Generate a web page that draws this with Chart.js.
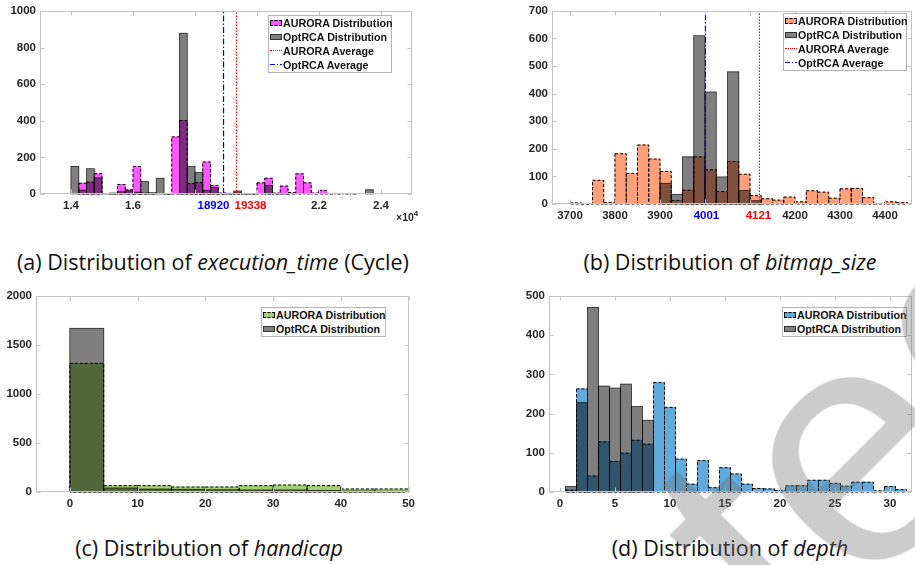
<!DOCTYPE html>
<html>
<head>
<meta charset="utf-8">
<title>AURORA vs OptRCA distributions</title>
<script src="https://cdn.jsdelivr.net/npm/chart.js@4.4.1/dist/chart.umd.min.js"></script>
<style>
  body { margin: 0; background: #fff; }
  #page { position: relative; width: 915px; height: 565px; overflow: hidden; background: #fff; }
  canvas { position: absolute; }
  .caption { position: absolute; width: 460px; text-align: center; font-family: "Open Sans", sans-serif; font-size: 21.5px; line-height: 30px; color: #111; white-space: nowrap; }
  .legend { position: absolute; box-sizing: border-box; background: #fff; border: 1px solid #b4b4b4; font: bold 10.7px "Liberation Sans", Arial, sans-serif; color: #111; }
  .legend .row { display: flex; align-items: center; height: 13.9px; white-space: nowrap; }
  .sw { width: 12px; height: 6px; margin: 0 1px 0 1px; box-sizing: border-box; flex: none; }
  .exp { position: absolute; font: bold 10.5px "Liberation Sans", Arial, sans-serif; color: #262626; }
  #stamp { position: absolute; left: 0; top: 0; pointer-events: none; }
</style>
</head>
<body>
<div id="page">
  <canvas id="chartA" width="420" height="230" style="left:0;top:0"></canvas>
  <canvas id="chartB" width="455" height="230" style="left:460px;top:0"></canvas>
  <canvas id="chartC" width="420" height="240" style="left:0;top:280px"></canvas>
  <canvas id="chartD" width="455" height="240" style="left:460px;top:280px"></canvas>

  <div class="exp" style="left:396px;top:209px">&times;10<sup style="font-size:8px">4</sup></div>

  <div class="caption" style="left:-17px;top:247px">(a) Distribution of <i>execution_time</i> (Cycle)</div>
  <div class="caption" style="left:500px;top:247px">(b) Distribution of <i>bitmap_size</i></div>
  <div class="caption" style="left:-21px;top:533px">(c) Distribution of <i>handicap</i></div>
  <div class="caption" style="left:500px;top:533px">(d) Distribution of <i>depth</i></div>

  <!-- watermark stamp over the lower right corner -->
  <svg id="stamp" width="915" height="565">
    <text x="125" y="1334" transform="rotate(-45 125 1334)" font-family="Liberation Sans, Arial, sans-serif"
          font-size="340" fill="rgba(110,110,110,0.35)">Accepted</text>
  </svg>
</div>

<script>
// ---- (a) execution_time, 250-cycle bins starting at 14000
const execBinStart = 14000;
const execBinWidth = 250;
const execAurora = [0, 59, 65, 111, 0, 2, 52, 23, 150, 5, 3, 0, 2, 312, 401, 57, 63, 175, 47, 5,
                    2, 5, 2, 2, 61, 86, 5, 43, 8, 110, 61, 5, 20, 3, 3, 3, 2, 0, 0, 0];
const execOptrca = [151, 21, 138, 88, 3, 5, 12, 18, 10, 68, 7, 86, 2, 0, 878, 150, 118, 20, 36, 3,
                    4, 16, 2, 2, 0, 47, 2, 3, 0, 0, 0, 0, 0, 0, 0, 0, 0, 0, 23, 0];
const execAvgAurora = 19338;
const execAvgOptrca = 18920;
const execXTicks = [14000, 16000, 18000, 20000, 22000, 24000];
const execXLabels = ['1.4', '1.6', '', '', '2.2', '2.4'];
const execYTicks = [0, 200, 400, 600, 800, 1000];

// ---- (b) bitmap_size, 25-wide bins starting at 3700
const bitmapBinStart = 3700;
const bitmapBinWidth = 25;
const bitmapAurora = [4, 1, 86, 5, 182, 111, 214, 163, 118, 13, 50, 171, 124, 45, 154, 108, 30, 19, 14, 25,
                      8, 48, 43, 21, 55, 56, 23, 2, 8, 5];
const bitmapOptrca = [0, 0, 0, 0, 0, 0, 0, 0, 75, 35, 171, 610, 406, 98, 479, 49, 12, 0, 0, 0,
                      0, 0, 0, 0, 0, 0, 0, 0, 0, 0];
const bitmapAvgAurora = 4121;
const bitmapAvgOptrca = 4001;
const bitmapXTicks = [3700, 3800, 3900, 4000, 4100, 4200, 4300, 4400];
const bitmapXLabels = ['3700', '3800', '3900', '', '', '4200', '4300', '4400'];
const bitmapYTicks = [0, 100, 200, 300, 400, 500, 600, 700];

// ---- (c) handicap, 5-wide bins starting at 0
const handicapBinStart = 0;
const handicapBinWidth = 5;
const handicapAurora = [1313, 65, 65, 51, 51, 65, 71, 65, 31, 31];
const handicapOptrca = [1670, 41, 29, 27, 22, 20, 20, 15, 10, 8];
const handicapXTicks = [0, 10, 20, 30, 40, 50];
const handicapYTicks = [0, 500, 1000, 1500, 2000];

// ---- (d) depth, unit bins centred on integers 1..31
const depthBinStart = 0.5;
const depthBinWidth = 1;
const depthAurora = [5, 263, 41, 128, 78, 99, 132, 122, 279, 216, 84, 20, 80, 11, 62, 46, 20, 9, 8, 4,
                     16, 16, 30, 30, 22, 15, 25, 25, 3, 14, 6];
const depthOptrca = [14, 228, 471, 270, 265, 275, 218, 183, 0, 0, 0, 0, 0, 0, 0, 0, 0, 0, 0, 0,
                     0, 0, 0, 0, 0, 0, 0, 0, 0, 0, 0];
const depthXTicks = [0, 5, 10, 15, 20, 25, 30];
const depthYTicks = [0, 100, 200, 300, 400, 500];

const TICK_FONT = { family: '"Liberation Sans", Arial, sans-serif', size: 11.5, weight: 'bold' };
const TICK_COLOR = '#262626';
const AXIS_COLOR = '#c4c4c4';
const OPT_FILL = 'rgba(0, 0, 0, 0.5)';
const AVG_AURORA_COLOR = '#ff0000';
const AVG_OPTRCA_COLOR = '#0000ff';

// draws bar edges, average lines and the matlab-style box with inward ticks
function axesDecor(cfg) {
    return {
        id: 'axesDecor',
        afterDatasetsDraw(chart) {
            const ctx = chart.ctx;
            const a = chart.chartArea;
            const xs = chart.scales.x;
            const ys = chart.scales.y;
            ctx.save();

            chart.data.datasets.forEach((ds, i) => {
                const meta = chart.getDatasetMeta(i);
                ctx.strokeStyle = ds.edgeColor;
                ctx.lineWidth = ds.edgeWidth;
                ctx.setLineDash(ds.edgeDash);
                meta.data.forEach((bar, j) => {
                    if (!ds.data[j].y) return;
                    const p = bar.getProps(['x', 'y', 'base', 'width'], true);
                    ctx.strokeRect(p.x - p.width / 2, p.y, p.width, p.base - p.y);
                });
            });

            (cfg.averages || []).forEach(av => {
                const px = xs.getPixelForValue(av.value);
                ctx.strokeStyle = av.color;
                ctx.lineWidth = 1.2;
                ctx.setLineDash(av.dash);
                ctx.beginPath();
                ctx.moveTo(px, a.bottom);
                ctx.lineTo(px, a.top);
                ctx.stroke();
                ctx.setLineDash([]);
                ctx.fillStyle = av.color;
                ctx.font = 'bold 11.5px "Liberation Sans", Arial, sans-serif';
                ctx.textAlign = 'center';
                ctx.textBaseline = 'top';
                ctx.fillText(String(av.value), px + av.dx, a.bottom + 6);
            });

            ctx.setLineDash([]);
            ctx.strokeStyle = AXIS_COLOR;
            ctx.lineWidth = 1;
            const L = Math.round(a.left) + 0.5, R = Math.round(a.right) - 0.5;
            const T = Math.round(a.top) + 0.5, B = Math.round(a.bottom) - 0.5;
            ctx.strokeRect(L, T, R - L, B - T);
            ctx.beginPath();
            xs.ticks.forEach(t => {
                const px = Math.round(xs.getPixelForValue(t.value)) + 0.5;
                ctx.moveTo(px, B); ctx.lineTo(px, B - 4);
                ctx.moveTo(px, T); ctx.lineTo(px, T + 4);
            });
            ys.ticks.forEach(t => {
                const py = Math.round(ys.getPixelForValue(t.value)) + 0.5;
                ctx.moveTo(L, py); ctx.lineTo(L + 4, py);
                ctx.moveTo(R, py); ctx.lineTo(R - 4, py);
            });
            ctx.stroke();
            ctx.restore();
        }
    };
}

function makeHist(cfg) {
    const centers = cfg.aurora.map((_, i) => cfg.binStart + (i + 0.5) * cfg.binWidth);
    const toPoints = vals => centers.map((c, i) => ({ x: c, y: vals[i] }));

    return new Chart(document.getElementById(cfg.canvas), {
        type: 'bar',
        data: {
            datasets: [
                {
                    label: 'OptRCA Distribution',
                    data: toPoints(cfg.optrca),
                    backgroundColor: OPT_FILL,
                    borderWidth: 0,
                    edgeColor: 'rgba(0, 0, 0, 0.6)',
                    edgeWidth: 0.9,
                    edgeDash: []
                },
                {
                    label: 'AURORA Distribution',
                    data: toPoints(cfg.aurora),
                    backgroundColor: cfg.color,
                    borderWidth: 0,
                    edgeColor: '#000',
                    edgeWidth: 1,
                    edgeDash: [3, 2]
                }
            ]
        },
        options: {
            responsive: false,
            animation: false,
            grouped: false,
            barPercentage: 1,
            categoryPercentage: 1,
            layout: { padding: cfg.padding },
            plugins: { legend: { display: false }, tooltip: { enabled: false } },
            scales: {
                x: {
                    type: 'linear',
                    offset: false,
                    min: cfg.xMin,
                    max: cfg.xMax,
                    grid: { display: false, drawTicks: false, offset: false },
                    border: { display: false },
                    afterBuildTicks: s => { s.ticks = cfg.xTicks.map(v => ({ value: v })); },
                    afterFit: s => { s.height = cfg.xHeight; },
                    ticks: {
                        autoSkip: false,
                        maxRotation: 0,
                        padding: 5,
                        color: TICK_COLOR,
                        font: TICK_FONT,
                        callback: (v, i) => cfg.xLabels ? cfg.xLabels[i] : String(v)
                    }
                },
                y: {
                    min: 0,
                    max: cfg.yTicks[cfg.yTicks.length - 1],
                    grid: { display: false, drawTicks: false },
                    border: { display: false },
                    afterBuildTicks: s => { s.ticks = cfg.yTicks.map(v => ({ value: v })); },
                    afterFit: s => { s.width = cfg.yWidth; },
                    ticks: { padding: 4, color: TICK_COLOR, font: TICK_FONT, callback: v => String(v) }
                }
            }
        },
        plugins: [axesDecor(cfg)]
    });
}

function addLegend(left, top, width, rows) {
    const box = document.createElement('div');
    box.className = 'legend';
    box.style.left = left + 'px';
    box.style.top = top + 'px';
    box.style.width = width + 'px';
    rows.forEach(r => {
        const row = document.createElement('div');
        row.className = 'row';
        const sw = document.createElement('span');
        sw.className = 'sw';
        Object.assign(sw.style, r.swatch);
        const txt = document.createElement('span');
        txt.textContent = r.text;
        row.appendChild(sw);
        row.appendChild(txt);
        box.appendChild(row);
    });
    document.getElementById('page').insertBefore(box, document.getElementById('stamp'));
}

function legendRows(color, withAverages) {
    const rows = [
        { text: 'AURORA Distribution', swatch: { background: color, border: '1px dashed #000' } },
        { text: 'OptRCA Distribution', swatch: { background: '#808080', border: '1px solid #333' } }
    ];
    if (withAverages) {
        rows.push({ text: 'AURORA Average', swatch: { height: '0', borderTop: '1.5px dotted ' + AVG_AURORA_COLOR } });
        rows.push({ text: 'OptRCA Average', swatch: { height: '1.5px',
            background: 'linear-gradient(to right, ' + AVG_OPTRCA_COLOR + ' 0 5px, transparent 5px 7px, ' +
                AVG_OPTRCA_COLOR + ' 7px 8px, transparent 8px 10px, ' + AVG_OPTRCA_COLOR + ' 10px 12px)' } });
    }
    return rows;
}

const PINK = '#ff57ff';
const SALMON = '#ffa07a';
const GREEN = '#a3cf72';
const BLUE = '#62aadb';

makeHist({
    canvas: 'chartA', color: PINK,
    binStart: execBinStart, binWidth: execBinWidth, aurora: execAurora, optrca: execOptrca,
    xMin: 13000, xMax: 25000, xTicks: execXTicks, xLabels: execXLabels, yTicks: execYTicks,
    padding: { top: 8, right: 8, left: 0, bottom: 0 }, yWidth: 40, xHeight: 36,
    averages: [
        { value: execAvgOptrca, color: AVG_OPTRCA_COLOR, dash: [6, 2, 1.5, 2], dx: -10 },
        { value: execAvgAurora, color: AVG_AURORA_COLOR, dash: [1.5, 1.5], dx: 14 }
    ]
});

makeHist({
    canvas: 'chartB', color: SALMON,
    binStart: bitmapBinStart, binWidth: bitmapBinWidth, aurora: bitmapAurora, optrca: bitmapOptrca,
    xMin: 3660, xMax: 4460, xTicks: bitmapXTicks, xLabels: bitmapXLabels, yTicks: bitmapYTicks,
    padding: { top: 8, right: 3, left: 0, bottom: 0 }, yWidth: 92, xHeight: 26,
    averages: [
        { value: bitmapAvgOptrca, color: AVG_OPTRCA_COLOR, dash: [6, 2, 1.5, 2], dx: 1 },
        { value: bitmapAvgAurora, color: AVG_AURORA_COLOR, dash: [1.5, 1.5], dx: -1 }
    ]
});

makeHist({
    canvas: 'chartC', color: GREEN,
    binStart: handicapBinStart, binWidth: handicapBinWidth, aurora: handicapAurora, optrca: handicapOptrca,
    xMin: -5, xMax: 50, xTicks: handicapXTicks, yTicks: handicapYTicks,
    padding: { top: 16, right: 11, left: 0, bottom: 0 }, yWidth: 36, xHeight: 28
});

makeHist({
    canvas: 'chartD', color: BLUE,
    binStart: depthBinStart, binWidth: depthBinWidth, aurora: depthAurora, optrca: depthOptrca,
    xMin: -1, xMax: 32, xTicks: depthXTicks, yTicks: depthYTicks,
    padding: { top: 16, right: 3, left: 0, bottom: 0 }, yWidth: 89, xHeight: 28
});

addLegend(268, 15, 124, legendRows(PINK, true));
addLegend(783, 13, 124, legendRows(SALMON, true));
addLegend(261, 307, 125, legendRows(GREEN, false));
addLegend(782, 307, 125, legendRows(BLUE, false));
</script>
</body>
</html>
